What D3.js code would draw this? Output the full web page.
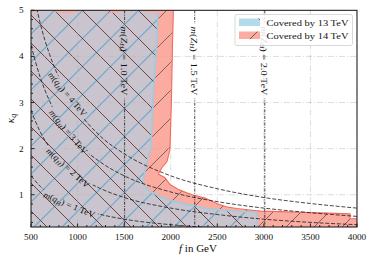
<!DOCTYPE html>
<html><head><meta charset="utf-8">
<script src="https://cdn.jsdelivr.net/npm/d3@7"></script>
<style>
body{margin:0;background:#fff}
svg{display:block}
text{font-family:"Liberation Serif","DejaVu Serif",serif;fill:#111}
</style>
</head><body>
<svg id="c" width="374" height="261"></svg>
<script>
// ---------- data ----------
const xTicks = [500, 1000, 1500, 2000, 2500, 3000, 3500, 4000];
const yTicks = [1, 2, 3, 4, 5];
// 13 TeV covered region: wavy top edge then right edge (f in GeV, kappa_q)
const region13TopF = [500, 548, 575, 725, 780, 880, 980, 1026, 1262, 1320, 1440, 1509, 1692, 1750, 1863];
const region13TopK = [4.98, 4.94, 5.0, 5.0, 4.95, 4.93, 4.95, 5.0, 5.0, 4.95, 4.94, 5.0, 5.0, 4.95, 4.95];
const region13EdgeF = [1863, 1853, 1831, 1810, 1799, 1783, 1735, 1706, 1735, 1778, 1853, 1920, 2046, 2172, 2314, 2422, 2583, 2708, 2851, 2923, 2926];
const region13EdgeK = [4.95, 4.36, 3.71, 3.06, 2.41, 1.98, 1.65, 1.29, 1.15, 1.07, 1.0, 0.93, 0.85, 0.79, 0.73, 0.69, 0.66, 0.64, 0.63, 0.62, 0.3];
// 14 TeV covered region: right edge
const region14EdgeF = [2028, 2025, 2019, 2014, 2008, 1998, 1992, 1960, 1903, 1867, 1939, 1992, 2078, 2172, 2261, 2368, 2494, 2594, 2708, 2851, 2959, 3173, 3388, 3603, 3925, 3925, 4000];
const region14EdgeK = [5.0, 4.68, 4.25, 3.70, 3.06, 2.41, 1.98, 1.72, 1.58, 1.45, 1.37, 1.22, 1.12, 1.04, 0.98, 0.93, 0.81, 0.74, 0.70, 0.67, 0.645, 0.634, 0.62, 0.606, 0.584, 0.48, 0.48];
// m(q_H) contours
const qhMasses = [1, 2, 3, 4];
const qhF = [500, 600, 700, 800, 900, 1000, 1250, 1500, 2000, 2500, 3000, 3500, 4000];
const qh1K = [1.41, 1.18, 1.01, 0.88, 0.79, 0.71, 0.57, 0.47, 0.35, 0.28, 0.24, 0.20, 0.18];
const qh2K = [2.83, 2.36, 2.02, 1.77, 1.57, 1.41, 1.13, 0.94, 0.71, 0.57, 0.47, 0.40, 0.35];
const qh3K = [4.24, 3.54, 3.03, 2.65, 2.36, 2.12, 1.70, 1.41, 1.06, 0.85, 0.71, 0.61, 0.53];
const qh4K = [5.66, 4.71, 4.04, 3.54, 3.14, 2.83, 2.26, 1.89, 1.41, 1.13, 0.94, 0.81, 0.71];
const qhLabelF = [910, 895, 900, 890];
// m(Z_H) lines
const zhMasses = ["1.0", "1.5", "2.0"];
const zhF = [1505, 2258, 3010];
const zhLabelK = 3.9;
const legendLabels = ["Covered by 13 TeV", "Covered by 14 TeV"];

// ---------- setup ----------
const svg = d3.select("#c");
const L = 31, R = 357, T = 10.3, B = 227;
const x = d3.scaleLinear().domain([500, 4000]).range([L, R]);
const y = d3.scaleLinear().domain([0.3, 5]).range([B, T]);
const defs = svg.append("defs");
defs.append("clipPath").attr("id", "clip").append("rect")
  .attr("x", L).attr("y", T).attr("width", R - L).attr("height", B - T);

const S = 28;
function hatch(id, bg, lines) {
  const p = defs.append("pattern").attr("id", id).attr("patternUnits", "userSpaceOnUse")
    .attr("width", S).attr("height", S);
  if (bg) p.append("rect").attr("width", S).attr("height", S).attr("fill", bg);
  lines.forEach(l => {
    for (let k = -2; k <= 2; k++) {
      const c = l.phase + k * S;
      const ln = p.append("line").attr("stroke", l.color).attr("stroke-width", l.w);
      if (l.dir === "/") ln.attr("x1", c + 10).attr("y1", -10).attr("x2", c - S - 10).attr("y2", S + 10);
      else ln.attr("x1", c - 10).attr("y1", -10).attr("x2", c + S + 10).attr("y2", S + 10);
    }
  });
}
const P1 = 9, P2 = 16;
hatch("h14", "#fcaba1", [{dir: "/", phase: P1, color: "#6e5856", w: 0.9}]);
hatch("h13", "#c9c4cd", [{dir: "/", phase: P1, color: "#6aa9cd", w: 1.2}, {dir: "\\", phase: P2, color: "#6b4540", w: 1.0}]);
hatch("l13", "#b3dbea", [{dir: "\\", phase: P2, color: "#555", w: 0.9}]);
hatch("l14", "#fcaba1", [{dir: "/", phase: P1, color: "#555", w: 0.9}]);

const line = d3.line().x(d => x(d[0])).y(d => y(d[1]));
const zip = (a, b) => a.map((v, i) => [v, b[i]]);

const plot = svg.append("g").attr("clip-path", "url(#clip)");

// 14 TeV region
const e14 = zip(region14EdgeF, region14EdgeK);
const poly14 = [[500, 5], ...e14, [4000, 0.3], [500, 0.3]];
plot.append("path").attr("d", line(poly14) + "Z").attr("fill", "url(#h14)");
// 13 TeV region
const top13 = zip(region13TopF, region13TopK);
const e13 = zip(region13EdgeF, region13EdgeK);
const poly13 = [...top13, ...e13.slice(1), [500, 0.3]];
plot.append("path").attr("d", line(poly13) + "Z").attr("fill", "url(#h13)");

// grid
const grid = plot.append("g").attr("stroke", "#b8b8b8").attr("stroke-opacity", 0.6)
  .attr("stroke-width", 0.8).attr("stroke-dasharray", "6,2,1,2");
xTicks.forEach(t => grid.append("line").attr("x1", x(t)).attr("x2", x(t)).attr("y1", T).attr("y2", B));
yTicks.forEach(t => grid.append("line").attr("x1", L).attr("x2", R).attr("y1", y(t)).attr("y2", y(t)));

// edges
plot.append("path").attr("d", line(e14)).attr("fill", "none").attr("stroke", "#f46a58").attr("stroke-width", 1.1);
plot.append("path").attr("d", line(e13)).attr("fill", "none").attr("stroke", "#9fcbe0").attr("stroke-width", 1.6);

// mask for label gaps
const mask = defs.append("mask").attr("id", "gap").attr("maskUnits", "userSpaceOnUse")
  .attr("x", 0).attr("y", 0).attr("width", 374).attr("height", 261);
mask.append("rect").attr("width", 374).attr("height", 261).attr("fill", "white");

const lines = plot.append("g").attr("mask", "url(#gap)");
const labels = svg.append("g");

function mathLabel(g, parts, size) {
  const t = g.append("text").attr("font-size", size).attr("text-anchor", "middle").attr("dominant-baseline", "central");
  parts.forEach(p => {
    const s = t.append("tspan").text(p.t);
    if (p.i) s.attr("font-style", "italic");
    if (p.sub) s.attr("font-size", size * 0.7).attr("dy", size * 0.22);
    if (p.up) s.attr("dy", -size * 0.22);
  });
  return t;
}
function placeLabel(tr, parts, size, target, pad) {
  const g = labels.append("g").attr("transform", tr);
  const inner = g.append("g");
  const t = mathLabel(inner, parts, size);
  const w = t.node().getComputedTextLength();
  const sx = target / w;
  inner.attr("transform", `scale(${sx},1)`);
  const bb = t.node().getBBox();
  mask.append("rect").attr("x", bb.x * sx - pad).attr("y", bb.y).attr("width", bb.width * sx + 2 * pad)
    .attr("height", bb.height).attr("fill", "black").attr("transform", tr);
}

// m(q_H) curves
const qhK = [qh1K, qh2K, qh3K, qh4K];
const curveGen = d3.line().x(d => x(d[0])).y(d => y(d[1])).curve(d3.curveMonotoneX);
qhMasses.forEach((m, i) => {
  const pts = zip(qhF, qhK[i]);
  lines.append("path").attr("d", curveGen(pts)).attr("fill", "none").attr("stroke", "#1a1a1a")
    .attr("stroke-width", 0.8).attr("stroke-dasharray", "4,1.8");
  const lf = qhLabelF[i];
  const interp = d3.scaleLinear().domain(qhF).range(qhK[i]);
  const k0 = interp(lf), ka = interp(lf - 50), kb = interp(lf + 50);
  const cx = x(lf), cy = y(k0);
  let ang = Math.atan2(y(kb) - y(ka), x(lf + 50) - x(lf - 50)) * 180 / Math.PI;
  ang = Math.min(ang, 50);
  const tr = `translate(${cx},${cy}) rotate(${ang})`;
  placeLabel(tr, [{t: "m", i: 1}, {t: "("}, {t: "q", i: 1}, {t: "H", i: 1, sub: 1}, {t: ")", up: 1}, {t: " = " + m + " TeV"}], 8.8, 55, 2);
});

// m(Z_H) vertical lines
zhMasses.forEach((m, i) => {
  lines.append("line").attr("x1", x(zhF[i])).attr("x2", x(zhF[i])).attr("y1", T).attr("y2", B)
    .attr("stroke", "#1a1a1a").attr("stroke-width", 0.8).attr("stroke-dasharray", "3,1.3,1,1.3");
  const tr = `translate(${x(zhF[i])},${y(zhLabelK)}) rotate(90)`;
  placeLabel(tr, [{t: "m", i: 1}, {t: "("}, {t: "Z", i: 1}, {t: "H", i: 1, sub: 1}, {t: ")", up: 1}, {t: " = " + m + " TeV"}], 8.8, 69, 3);
});

// frame & ticks
const ax = svg.append("g").attr("stroke", "#111").attr("stroke-width", 0.9);
d3.range(500, 4001, 100).forEach(v => {
  const major = v % 500 === 0;
  ax.append("line").attr("x1", x(v)).attr("x2", x(v)).attr("y1", B).attr("y2", B - (major ? 3.5 : 2));
});
d3.range(4, 51, 2).forEach(v10 => {
  const v = v10 / 10, major = v10 % 10 === 0;
  ax.append("line").attr("y1", y(v)).attr("y2", y(v)).attr("x1", L).attr("x2", L + (major ? 3.5 : 2));
});
svg.append("rect").attr("x", L).attr("y", T).attr("width", R - L).attr("height", B - T)
  .attr("fill", "none").attr("stroke", "#111").attr("stroke-width", 1);

xTicks.forEach(t => svg.append("text").attr("x", x(t)).attr("y", 240).attr("text-anchor", "middle")
  .attr("font-size", 9.2).text(t));
yTicks.forEach(t => svg.append("text").attr("x", 23.5).attr("y", y(t)).attr("dy", "0.33em")
  .attr("text-anchor", "end").attr("font-size", 9.2).text(t));

const xl = svg.append("text").attr("x", 198).attr("y", 251.5).attr("text-anchor", "middle").attr("font-size", 11);
xl.append("tspan").attr("font-style", "italic").text("f");
xl.append("tspan").text(" in GeV");
const yl = svg.append("text").attr("transform", "translate(13.5,118.5) rotate(-90)").attr("text-anchor", "middle").attr("font-size", 11);
yl.append("tspan").attr("font-style", "italic").text("κ");
yl.append("tspan").attr("font-style", "italic").attr("font-size", 8).attr("dy", 2).text("q");

// legend
const lg = svg.append("g");
lg.append("rect").attr("x", 235).attr("y", 14.5).attr("width", 117.5).attr("height", 31).attr("rx", 2)
  .attr("fill", "white").attr("fill-opacity", 0.85).attr("stroke", "#cfcfcf").attr("stroke-width", 0.8);
["l13", "l14"].forEach((pid, i) => {
  lg.append("rect").attr("x", 239).attr("y", 18.5 + i * 13).attr("width", 21).attr("height", 7.5)
    .attr("fill", `url(#${pid})`);
  lg.append("text").attr("x", 266.5).attr("y", 25.5 + i * 13).attr("font-size", 9.2)
    .attr("textLength", 82).attr("lengthAdjust", "spacingAndGlyphs").text(legendLabels[i]);
});
</script>
</body></html>
